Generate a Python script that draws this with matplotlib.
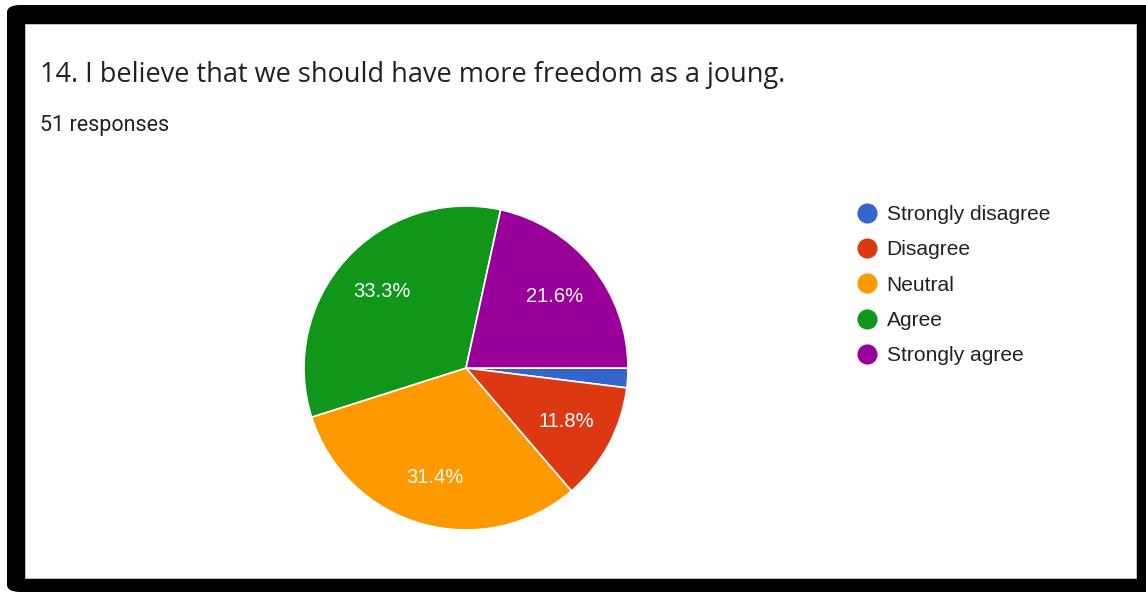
import matplotlib.pyplot as plt
from matplotlib.patches import FancyBboxPatch, Rectangle
from matplotlib.lines import Line2D

# survey answers (51 responses)
labels = ["Strongly disagree", "Disagree", "Neutral", "Agree", "Strongly agree"]
counts = [1, 6, 16, 17, 11]
colors = ["#3366cc", "#dc3912", "#ff9900", "#109618", "#990099"]

title = "14. I believe that we should have more freedom as a joung."
subtitle = "51 responses"

W, H = 1146, 592
fig = plt.figure(figsize=(W / 100, H / 100), dpi=100)
fig.patch.set_facecolor("white")

# black frame with white card inside
frame = FancyBboxPatch((7 / W, 0), 1 - 7 / W + 0.02, 1 - 5 / H,
                       boxstyle="round,pad=0,rounding_size=0.012",
                       transform=fig.transFigure, facecolor="black",
                       edgecolor="none", zorder=-2)
fig.patches.append(frame)
card = Rectangle((25 / W, 1 - 578 / H), (1136 - 25) / W, (578 - 24) / H,
                 transform=fig.transFigure, facecolor="white",
                 edgecolor="#cccccc", linewidth=0.6, zorder=-1)
fig.patches.append(card)

fig.text(40 / W, 1 - 75 / H, title, fontsize=19.5, family="Open Sans",
         color="#202124", va="center", ha="left")
fig.text(40 / W, 1 - 126 / H, subtitle, fontsize=15.5, family="Roboto",
         color="#202124", va="center", ha="left")

# pie: centre (466, 368), radius 162 px
cx, cy, r = 466, 368, 162
ax = fig.add_axes([(cx - r) / W, (H - cy - r) / H, 2 * r / W, 2 * r / H])
ax.set_zorder(2)


def pct(p):
    return "%.1f%%" % p if p > 5 else ""


wedges, texts, autotexts = ax.pie(counts, colors=colors, startangle=0,
                                  counterclock=False, autopct=pct,
                                  pctdistance=0.7,
                                  wedgeprops=dict(edgecolor="white", linewidth=1.2),
                                  textprops=dict(color="white", fontsize=14.5,
                                                 family="Liberation Sans"))
ax.set_xlim(-1, 1)
ax.set_ylim(-1, 1)
ax.set_aspect("equal")
ax.axis("off")

handles = [Line2D([], [], marker="o", linestyle="none", markersize=13.5,
                  markerfacecolor=c, markeredgecolor=c) for c in colors]
leg = fig.legend(handles, labels, loc="upper left",
                 bbox_to_anchor=(851 / W, 1 - 205 / H),
                 frameon=False, handletextpad=0.2, labelspacing=0.78,
                 handlelength=1.5, borderpad=0, borderaxespad=0,
                 prop=dict(family="Liberation Sans", size=15.1))
leg.set_zorder(3)
for t in leg.get_texts():
    t.set_color("#222222")

fig.savefig("out.png", dpi=100)
